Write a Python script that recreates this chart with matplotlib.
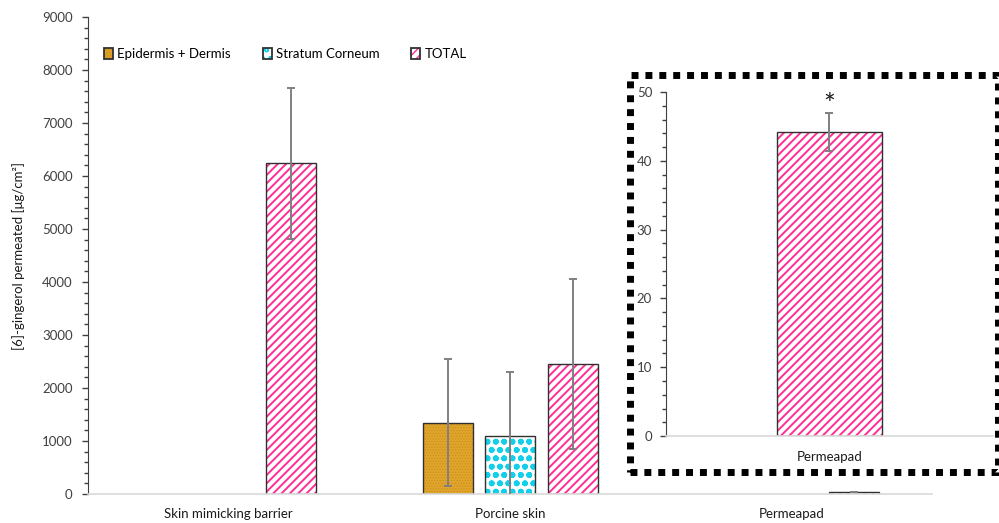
import matplotlib
matplotlib.use('Agg')
import matplotlib.pyplot as plt
from matplotlib.patches import Rectangle, Patch
import numpy as np

plt.rcParams['font.family'] = ['Lato', 'DejaVu Sans']

# data
groups = ['Skin mimicking barrier', 'Porcine skin', 'Permeapad']
series = ['Epidermis + Dermis', 'Stratum Corneum', 'TOTAL']
epi_dermis = [np.nan, 1345, np.nan]
epi_dermis_err = [0, 1195, 0]
stratum = [np.nan, 1095, np.nan]
stratum_err = [0, 1205, 0]
total = [6240, 2450, 44.2]
total_err = [1430, 1600, 2.8]

inset_label = ['Permeapad']
inset_total = [44.2]
inset_err = [2.8]

# styles: face, hatch, hatch colour, hatch width
styles = {
    'Epidermis + Dermis': dict(facecolor='#e2a52c', hatch='......', hcolor='#c98f1c', hlw=0.6),
    'Stratum Corneum': dict(facecolor='white', hatch='oo', hcolor='#12d0ea', hlw=1.8),
    'TOTAL': dict(facecolor='white', hatch='////', hcolor='#ff2d95', hlw=1.4),
}
err_color = '#808080'
tick_color = '#404040'

fig = plt.figure(figsize=(9.99, 5.23), dpi=100)
ax = fig.add_axes([0.0881, 0.0554, 0.845, 0.912])

x = np.arange(len(groups))
width = 0.178
offsets = [-0.222, 0.0, 0.222]
values = [epi_dermis, stratum, total]
errors = [epi_dermis_err, stratum_err, total_err]


def draw_bars(axis, xs, vals, errs, name, w):
    st = styles[name]
    with plt.rc_context({'hatch.color': st['hcolor'], 'hatch.linewidth': st['hlw']}):
        bars = axis.bar(xs, vals, w, color=st['facecolor'], edgecolor='#303030',
                        linewidth=1.0, hatch=st['hatch'], zorder=2)
        for b in bars:
            b._hatch_color = matplotlib.colors.to_rgba(st['hcolor'])
    axis.errorbar(xs, vals, yerr=errs, fmt='none', ecolor=err_color,
                  elinewidth=1.4, capsize=3, capthick=1.4, zorder=3)
    return bars


for name, off, v, e in zip(series, offsets, values, errors):
    draw_bars(ax, x + off, v, e, name, width)

ax.set_xlim(-0.5, 2.5)
ax.set_ylim(0, 9000)
ax.set_yticks(np.arange(0, 9001, 1000))
ax.set_yticks(np.arange(0, 9001, 200), minor=True)
ax.set_xticks(x)
ax.set_xticklabels(groups)
ax.tick_params(axis='x', length=0, pad=10, labelsize=9.5, labelcolor='#1a1a1a')
ax.tick_params(axis='y', which='major', length=4, width=1, color='#404040',
               labelsize=9.5, labelcolor=tick_color, pad=7)
ax.tick_params(axis='y', which='minor', length=3, width=1, color='#404040')
for s in ['top', 'right']:
    ax.spines[s].set_visible(False)
ax.spines['left'].set_color('#404040')
ax.spines['bottom'].set_color('#d9d9d9')
ax.spines['bottom'].set_linewidth(1.2)
ax.set_ylabel('[6]-gingerol permeated [μg/cm²]', fontsize=9.5, color='#1a1a1a', labelpad=12)

handles = []
for n in series:
    st = styles[n]
    with plt.rc_context({'hatch.linewidth': st['hlw']}):
        h = Patch(facecolor=st['facecolor'], edgecolor='#303030', linewidth=1.3,
                  hatch=st['hatch'])
    h._hatch_color = matplotlib.colors.to_rgba(st['hcolor'])
    handles.append(h)
ax.legend(handles, series, loc='upper left', bbox_to_anchor=(0.005, 0.96), ncol=3,
          frameon=False, fontsize=9.5, handlelength=0.7, handleheight=0.9,
          handletextpad=0.3, columnspacing=2.4)

# dotted frame around the inset
frame = Rectangle((630 / 999, 1 - 472 / 523), 368 / 999, (472 - 75) / 523,
                  transform=fig.transFigure, facecolor='white', edgecolor='black',
                  linewidth=5, linestyle=(0, (1, 1)), zorder=5)
frame.set_capstyle('butt')
fig.patches.append(frame)

ins = fig.add_axes([0.6667, 0.1663, 0.327, 0.6577], zorder=6)
ins.set_facecolor('white')
draw_bars(ins, np.arange(1), inset_total, inset_err, 'TOTAL', 0.32)
ins.set_xlim(-0.5, 0.5)
ins.set_ylim(0, 50)
ins.set_yticks(np.arange(0, 51, 10))
ins.set_yticks(np.arange(0, 51, 2), minor=True)
ins.set_xticks([0])
ins.set_xticklabels(inset_label)
ins.tick_params(axis='x', length=0, pad=11, labelsize=9.5, labelcolor='#1a1a1a')
ins.tick_params(axis='y', which='major', length=4, width=1, color='#404040',
                labelsize=9.5, labelcolor=tick_color, pad=6)
ins.tick_params(axis='y', which='minor', length=3, width=1, color='#404040')
for s in ['top', 'right']:
    ins.spines[s].set_visible(False)
ins.spines['left'].set_color('#404040')
ins.spines['bottom'].set_color('#d9d9d9')
ins.spines['bottom'].set_linewidth(1.2)
ins.text(0, inset_total[0] + inset_err[0] + 1.0, '*', ha='center', va='center',
         fontsize=20, color='#1a1a1a')

fig.savefig('out.png', dpi=100)
